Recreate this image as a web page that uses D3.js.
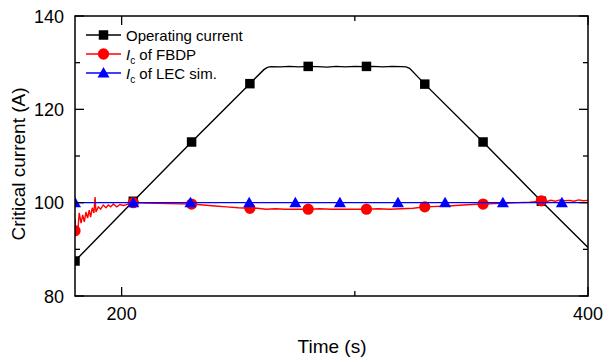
<!DOCTYPE html>
<html><head><meta charset="utf-8">
<script src="https://cdn.jsdelivr.net/npm/d3@7"></script>
<style>body{margin:0;background:#fff}svg{display:block}text{font-family:Arial,"Liberation Sans",sans-serif}</style>
</head><body><svg id="c" width="606" height="359"></svg>
<script>
// ---- data ----
const opTime  = [180, 205, 230, 255, 261, 262.5, 264, 268, 272, 276, 280, 284, 288, 292, 296, 300, 304, 308, 312, 316, 320, 322, 323.5, 330, 355, 380, 400];
const opValue = [87.5, 100.3, 113.0, 125.5, 128.5, 129.0, 129.15, 129.1, 129.2, 129.1, 129.2, 129.15, 129.05, 129.2, 129.1, 129.2, 129.15, 129.2, 129.1, 129.2, 129.15, 129.1, 128.8, 125.4, 113.0, 100.3, 90.4];
const opMarkT = [180, 205, 230, 255, 280, 305, 330, 355, 380];
const opMarkV = [87.5, 100.3, 113.0, 125.5, 129.2, 129.2, 125.4, 113.0, 100.3];

const fbTime  = [180, 180.3, 180.7, 181.2, 181.8, 182.6, 183.3, 184, 184.7, 185.4, 186.1, 186.7, 187.4, 188.1, 188.6, 189, 190, 191, 192.1, 193.3, 194.3, 195.3, 196.4, 197.9, 199.3, 200.7, 202.9, 205, 210, 220, 230, 235, 240, 245, 250, 255, 258, 262, 266, 270, 275, 280, 285, 290, 295, 300, 305, 310, 315, 320, 325, 330, 340, 350, 355, 360, 370, 375, 380, 382, 384, 386, 388, 390, 392, 394, 396, 398, 400];
const fbValue = [96.5, 93.0, 95.0, 93.8, 97.8, 95.6, 97.4, 95.9, 98.0, 96.7, 98.4, 96.9, 98.9, 97.8, 101.2, 98.0, 99.1, 98.6, 99.5, 98.9, 99.5, 99.1, 99.7, 99.1, 99.6, 99.4, 99.7, 100.0, 99.9, 99.8, 99.7, 99.5, 99.3, 99.1, 98.9, 98.8, 98.8, 98.6, 98.7, 98.6, 98.6, 98.6, 98.7, 98.6, 98.6, 98.6, 98.6, 98.7, 98.6, 98.7, 98.8, 99.1, 99.3, 99.6, 99.7, 99.8, 100.0, 100.1, 100.3, 100.2, 100.5, 100.3, 100.6, 100.4, 100.5, 100.3, 100.6, 100.4, 100.5];
const fbMarkT = [180, 205, 230, 255, 280, 305, 330, 355, 380];
const fbMarkV = [94.0, 100.0, 99.7, 98.8, 98.6, 98.6, 99.1, 99.7, 100.4];

const lecTime  = [180, 400];
const lecValue = [100.0, 100.0];
const lecMarkT = [180, 205, 229.5, 254.7, 274.5, 293.6, 318.5, 338.7, 363.5, 388.8];
const lecMarkV = [100, 100, 100, 100, 100, 100, 100, 100, 100, 100];

const xTicks = [200, 400];
const xMinor = [300];
const yTicks = [80, 100, 120, 140];
const yMinor = [90, 110, 130];
const xTitle = "Time (s)";
const yTitle = "Critical current (A)";
const legendLabels = [["Operating current", null, null], ["I", "c", " of FBDP"], ["I", "c", " of LEC sim."]];

// ---- chart ----
const L = 75, R = 588, T = 16, B = 296;
const x = d3.scaleLinear().domain([180, 400]).range([L, R]);
const y = d3.scaleLinear().domain([80, 140]).range([B, T]);
const svg = d3.select("#c");

svg.append("defs").append("clipPath").attr("id", "clip")
  .append("rect").attr("x", L).attr("y", T).attr("width", R - L).attr("height", B - T);

const plot = svg.append("g").attr("clip-path", "url(#clip)");
const line = d3.line().x(d => x(d[0])).y(d => y(d[1]));

function drawSeries(times, vals, mt, mv, color, shape) {
  plot.append("path").datum(d3.zip(times, vals)).attr("d", line)
    .attr("fill", "none").attr("stroke", color).attr("stroke-width", 1.4);
  plot.selectAll(null).data(d3.zip(mt, mv)).enter().append("path")
    .attr("transform", d => `translate(${x(d[0])},${y(d[1])})`)
    .attr("d", shape).attr("fill", color);
}
const sq = d3.symbol().type(d3.symbolSquare).size(90)();
const ci = d3.symbol().type(d3.symbolCircle).size(100)();
const tr = "M0,-6L6,4.5L-6,4.5Z";

drawSeries(opTime, opValue, opMarkT, opMarkV, "#000", sq);
drawSeries(fbTime, fbValue, fbMarkT, fbMarkV, "#ff0000", ci);
drawSeries(lecTime, lecValue, lecMarkT, lecMarkV, "#0000ff", tr);

// axes (inward ticks, mirrored)
const ax = svg.append("g").attr("stroke", "#000").attr("stroke-width", 1.3);
xTicks.forEach(t => {
  ax.append("line").attr("x1", x(t)).attr("x2", x(t)).attr("y1", B).attr("y2", B - 9);
  ax.append("line").attr("x1", x(t)).attr("x2", x(t)).attr("y1", T).attr("y2", T + 9);
});
xMinor.forEach(t => {
  ax.append("line").attr("x1", x(t)).attr("x2", x(t)).attr("y1", B).attr("y2", B - 5);
  ax.append("line").attr("x1", x(t)).attr("x2", x(t)).attr("y1", T).attr("y2", T + 5);
});
yTicks.forEach(t => {
  ax.append("line").attr("x1", L).attr("x2", L + 9).attr("y1", y(t)).attr("y2", y(t));
  ax.append("line").attr("x1", R).attr("x2", R - 9).attr("y1", y(t)).attr("y2", y(t));
});
yMinor.forEach(t => {
  ax.append("line").attr("x1", L).attr("x2", L + 5).attr("y1", y(t)).attr("y2", y(t));
  ax.append("line").attr("x1", R).attr("x2", R - 5).attr("y1", y(t)).attr("y2", y(t));
});
svg.append("rect").attr("x", L).attr("y", T).attr("width", R - L).attr("height", B - T)
  .attr("fill", "none").attr("stroke", "#000").attr("stroke-width", 1.5);

svg.selectAll(null).data(xTicks).enter().append("text")
  .attr("x", d => x(d)).attr("y", 320).attr("text-anchor", "middle")
  .attr("font-size", 18).text(d => d);
svg.selectAll(null).data(yTicks).enter().append("text")
  .attr("x", 64).attr("y", d => y(d) + 6.5).attr("text-anchor", "end")
  .attr("font-size", 18).text(d => d);

svg.append("text").attr("x", 332).attr("y", 353).attr("text-anchor", "middle")
  .attr("font-size", 19).text(xTitle);
svg.append("text").attr("transform", "translate(25,164) rotate(-90)")
  .attr("text-anchor", "middle").attr("font-size", 19).text(yTitle);

// legend
const legColors = ["#000", "#ff0000", "#0000ff"];
const legShapes = [sq, ci, tr];
const legY = [35, 54, 73];
legendLabels.forEach((lab, i) => {
  const g = svg.append("g");
  g.append("line").attr("x1", 86).attr("x2", 121).attr("y1", legY[i]).attr("y2", legY[i])
    .attr("stroke", legColors[i]).attr("stroke-width", 1.4);
  g.append("path").attr("transform", `translate(103.5,${legY[i]})`).attr("d", legShapes[i]).attr("fill", legColors[i]);
  const t = g.append("text").attr("x", 126).attr("y", legY[i] + 5.5).attr("font-size", 15);
  if (lab[1] === null) {
    t.text(lab[0]);
  } else {
    t.append("tspan").attr("font-style", "italic").text(lab[0]);
    t.append("tspan").attr("font-size", 10).attr("dy", 4).text(lab[1]);
    t.append("tspan").attr("dy", -4).text(lab[2]);
  }
});
</script></body></html>
